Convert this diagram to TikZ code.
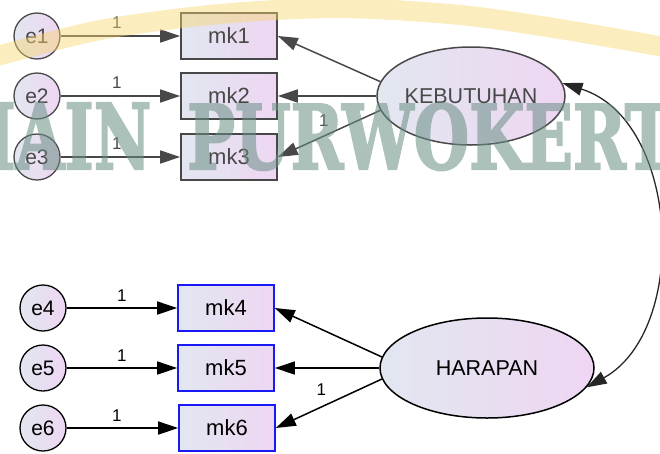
\documentclass[tikz,border=0pt]{standalone}
\usepackage{fontspec}
\setmainfont{Liberation Sans}
\newfontfamily\wmfont[BoldFeatures={FakeBold=2.5}]{DejaVu Serif}
\usepackage{graphicx}
\usetikzlibrary{arrows.meta,shapes.geometric}
\definecolor{fillL}{RGB}{226,231,240}
\definecolor{fillR}{RGB}{238,214,242}
\definecolor{topcol}{RGB}{72,72,72}
\definecolor{boxblue}{RGB}{25,25,245}
\definecolor{wmark}{RGB}{105,142,132}
\definecolor{band}{RGB}{248,214,110}
\begin{document}
\begin{tikzpicture}[x=1pt,y=-1pt,
  >={Triangle[length=20pt,width=13pt]},
  every node/.style={inner sep=0pt},
  shadedfill/.style={left color=fillL,right color=fillR},
  errnode/.style={circle,shadedfill,draw,line width=1.3pt,minimum size=46pt,font=\fontsize{21}{25}\selectfont},
  obsnode/.style={rectangle,shadedfill,draw,line width=1.6pt,minimum width=96pt,minimum height=46pt,font=\fontsize{22}{26}\selectfont},
  latnode/.style={ellipse,shadedfill,draw,line width=1.5pt,font=\fontsize{21.5}{25}\selectfont},
  link/.style={line width=1.5pt,->},
  wt/.style={font=\fontsize{17}{19}\selectfont},
  topgrp/.style={draw=topcol,text=topcol},
]
\useasboundingbox (0,0) rectangle (660,453);

% error terms
\node[errnode,topgrp] (e1) at (37,36) {e1};
\node[errnode,topgrp] (e2) at (37,96) {e2};
\node[errnode,topgrp] (e3) at (37,157) {e3};
\node[errnode] (e4) at (43,308) {e4};
\node[errnode] (e5) at (43,368) {e5};
\node[errnode] (e6) at (43,428) {e6};

% observed indicators
\node[obsnode,topgrp] (mk1) at (229,36) {mk1};
\node[obsnode,topgrp] (mk2) at (229,96) {mk2};
\node[obsnode,topgrp] (mk3) at (229,157) {mk3};
\node[obsnode,draw=boxblue] (mk4) at (226,308) {mk4};
\node[obsnode,draw=boxblue] (mk5) at (226,368) {mk5};
\node[obsnode,draw=boxblue] (mk6) at (227,428) {mk6};

% latent constructs
\node[latnode,topgrp,minimum width=188pt,minimum height=98pt] (K) at (471,96) {KEBUTUHAN};
\node[latnode,minimum width=214pt,minimum height=100pt] (H) at (487,368) {HARAPAN};

% error paths
\draw[link,topcol] (e1) -- (mk1) node[wt,text=topcol,pos=0.47,above=7pt]{1};
\draw[link,topcol] (e2) -- (mk2) node[wt,text=topcol,pos=0.47,above=7pt]{1};
\draw[link,topcol] (e3) -- (mk3) node[wt,text=topcol,pos=0.47,above=7pt]{1};
\draw[link] (e4) -- (mk4) node[wt,pos=0.5,above=6pt]{1};
\draw[link] (e5) -- (mk5) node[wt,pos=0.5,above=6pt]{1};
\draw[link] (e6) -- (mk6) node[wt,pos=0.45,above=6pt]{1};

% loadings
\draw[link,topcol] (K.171) -- (mk1.east);
\draw[link,topcol] (K.180) -- (mk2.east);
\draw[link,topcol] (K.189) -- (mk3.east) node[wt,text=topcol,pos=0.55,above=9pt]{1};
\draw[link] (H.174) -- (mk4.east);
\draw[link] (H.180) -- (mk5.east);
\draw[link] (H.186) -- (mk6.east) node[wt,pos=0.57,above=11pt]{1};

% covariance
\draw[line width=1.3pt,draw=black!85,<->]
  (K.8) .. controls (680,120) and (690,330) .. (H.-11);

% watermark
\draw[band,line width=20pt,opacity=0.45,line cap=round]
  plot[smooth] coordinates {(-10,58) (100,30) (220,14) (340,8) (460,15) (560,29) (670,48)};
\begin{scope}[transparency group,opacity=0.55]
\node[anchor=base west,text=wmark] (wm1) at (-14,169)
  {\resizebox{165pt}{66pt}{\wmfont\bfseries IAIN}};
\node[anchor=base west,text=wmark] (wm2) at (187,169)
  {\resizebox{540pt}{66pt}{\wmfont\bfseries PURWOKERTO}};
\end{scope}
\end{tikzpicture}
\end{document}
